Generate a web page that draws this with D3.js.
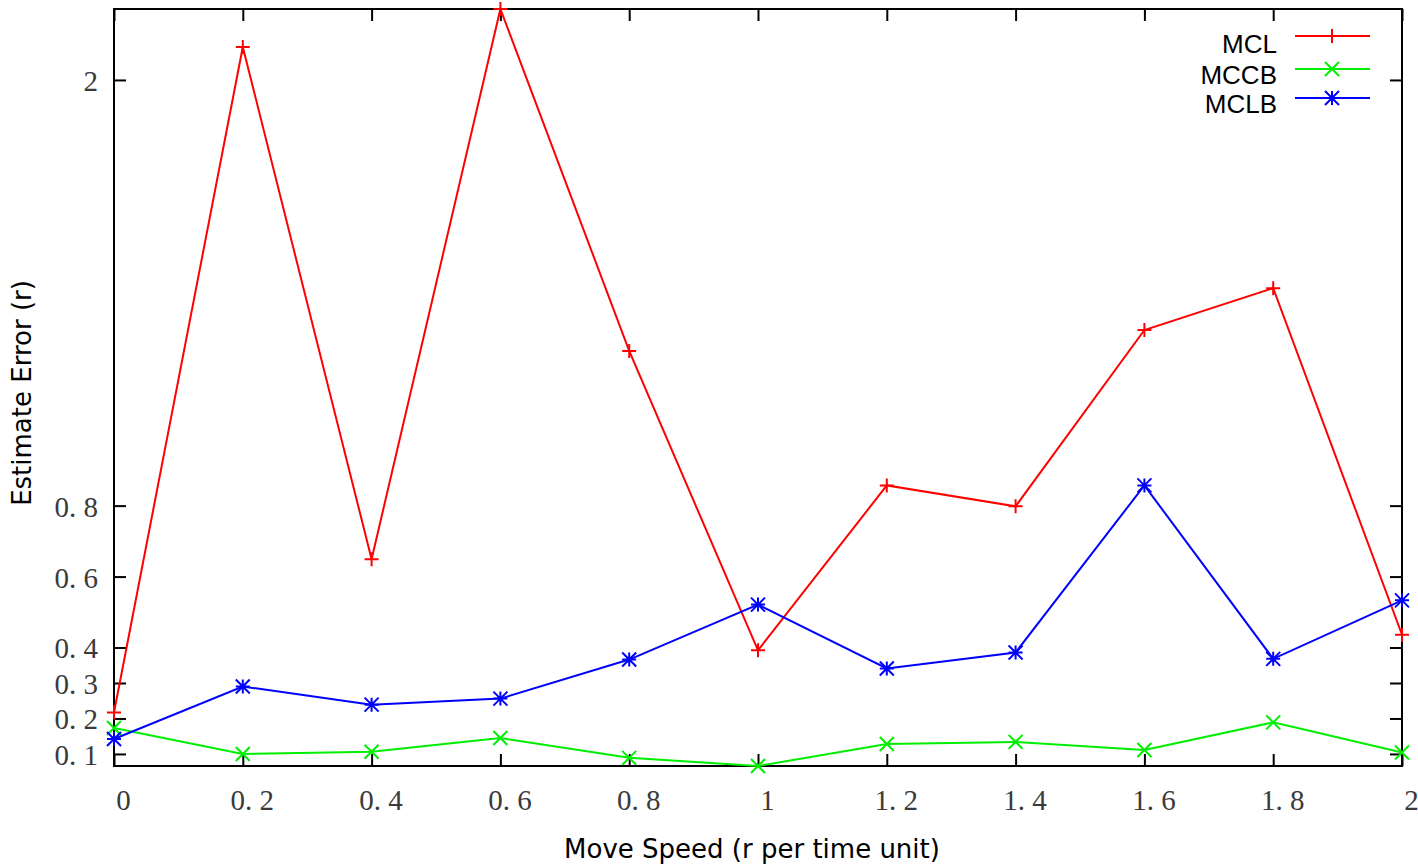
<!DOCTYPE html>
<html>
<head>
<meta charset="utf-8">
<script src="https://cdn.jsdelivr.net/npm/d3@7"></script>
<style>
  body { margin: 0; background: #fff; }
  svg { display: block; }
</style>
</head>
<body>
<svg width="1418" height="865"></svg>
<script>
"use strict"

var speeds = [0, 0.2, 0.4, 0.6, 0.8, 1.0, 1.2, 1.4, 1.6, 1.8, 2.0];
var mcl  = [0.217, 2.093, 0.649, 2.2, 1.236, 0.392, 0.857, 0.798, 1.295, 1.413, 0.436];
var mccb = [0.173, 0.100, 0.106, 0.145, 0.089, 0.066, 0.128, 0.134, 0.111, 0.189, 0.104];
var mclb = [0.142, 0.290, 0.239, 0.256, 0.366, 0.521, 0.341, 0.386, 0.857, 0.368, 0.533];
var xTicks = [0, 0.2, 0.4, 0.6, 0.8, 1, 1.2, 1.4, 1.6, 1.8, 2];
var yTicks = [0.1, 0.2, 0.3, 0.4, 0.6, 0.8, 2];
var seriesNames = ["MCL", "MCCB", "MCLB"];
var seriesColors = ["#ff0000", "#00ee00", "#0000ff"];
var seriesMarks = ["plus", "cross", "star"];

var plotL = 114, plotR = 1402, plotT = 9, plotB = 766;

var x = d3.scaleLinear().domain([0, 2]).range([plotL, plotR]);
var y = d3.scaleLinear().domain([0.066, 2.2]).range([plotB, plotT]);

var fmt = function(d) {
    return String(d).replace(".", ". ");
};

var svg = d3.select("svg");

// ticks on all four sides, pointing inward
var gx = svg.append("g").attr("transform", "translate(0," + plotB + ")")
    .call(d3.axisBottom(x).tickValues(xTicks).tickSizeInner(-12).tickSizeOuter(0)
        .tickPadding(23).tickFormat(fmt));
var gxt = svg.append("g").attr("transform", "translate(0," + plotT + ")")
    .call(d3.axisTop(x).tickValues(xTicks).tickSizeInner(-12).tickSizeOuter(0)
        .tickFormat(""));
var gy = svg.append("g").attr("transform", "translate(" + plotL + ",0)")
    .call(d3.axisLeft(y).tickValues(yTicks).tickSizeInner(-12).tickSizeOuter(0)
        .tickPadding(16).tickFormat(fmt));
var gyr = svg.append("g").attr("transform", "translate(" + plotR + ",0)")
    .call(d3.axisRight(y).tickValues(yTicks).tickSizeInner(-12).tickSizeOuter(0)
        .tickFormat(""));

[gx, gxt, gy, gyr].forEach(function(g) {
    g.select(".domain").remove();
    g.selectAll(".tick line").attr("stroke", "#000").attr("stroke-width", 2);
    g.selectAll(".tick text")
        .attr("fill", "#3a3a3a")
        .style("font-family", "'Liberation Serif', 'DejaVu Serif', serif")
        .style("font-size", "29px");
});
gx.selectAll(".tick text").attr("dx", 9);
gy.selectAll(".tick text").attr("dy", "0.36em");

// frame
svg.append("rect")
    .attr("x", plotL).attr("y", plotT)
    .attr("width", plotR - plotL).attr("height", plotB - plotT)
    .attr("fill", "none").attr("stroke", "#000").attr("stroke-width", 2);

var markPath = function(kind, s) {
    var plus = "M" + (-s) + ",0H" + s + "M0," + (-s) + "V" + s;
    var cross = "M" + (-s) + "," + (-s) + "L" + s + "," + s +
                "M" + (-s) + "," + s + "L" + s + "," + (-s);
    if (kind === "plus") return plus;
    if (kind === "cross") return cross;
    return plus + cross;
};

var allSeries = [mcl, mccb, mclb];
var line = d3.line()
    .x(function(d, i) { return x(speeds[i]); })
    .y(function(d) { return y(d); });

allSeries.forEach(function(vals, k) {
    svg.append("path")
        .datum(vals)
        .attr("d", line)
        .attr("fill", "none")
        .attr("stroke", seriesColors[k])
        .attr("stroke-width", 2);
    svg.append("g").selectAll("path")
        .data(vals)
        .join("path")
        .attr("transform", function(d, i) {
            return "translate(" + x(speeds[i]) + "," + y(d) + ")";
        })
        .attr("d", markPath(seriesMarks[k], 7))
        .attr("fill", "none")
        .attr("stroke", seriesColors[k])
        .attr("stroke-width", 2);
});

// legend
var legend = svg.append("g");
var legendLineY = [36, 69, 98];
var legendTextY = [53, 84, 113];
seriesNames.forEach(function(name, k) {
    legend.append("text")
        .attr("x", 1277).attr("y", legendTextY[k])
        .attr("text-anchor", "end")
        .style("font-family", "'Liberation Sans', Arial, sans-serif")
        .style("font-size", "26px")
        .text(name);
    legend.append("line")
        .attr("x1", 1295).attr("x2", 1370)
        .attr("y1", legendLineY[k]).attr("y2", legendLineY[k])
        .attr("stroke", seriesColors[k]).attr("stroke-width", 2);
    legend.append("path")
        .attr("transform", "translate(1332," + legendLineY[k] + ")")
        .attr("d", markPath(seriesMarks[k], 7))
        .attr("fill", "none")
        .attr("stroke", seriesColors[k])
        .attr("stroke-width", 2);
});

// axis titles
svg.append("text")
    .attr("x", 752).attr("y", 858)
    .attr("text-anchor", "middle")
    .style("font-family", "'DejaVu Sans', Verdana, sans-serif")
    .style("font-size", "26px")
    .text("Move Speed (r per time unit)");

svg.append("text")
    .attr("transform", "translate(31,393) rotate(-90)")
    .attr("text-anchor", "middle")
    .style("font-family", "'DejaVu Sans', Verdana, sans-serif")
    .style("font-size", "26px")
    .text("Estimate Error (r)");
</script>
</body>
</html>
